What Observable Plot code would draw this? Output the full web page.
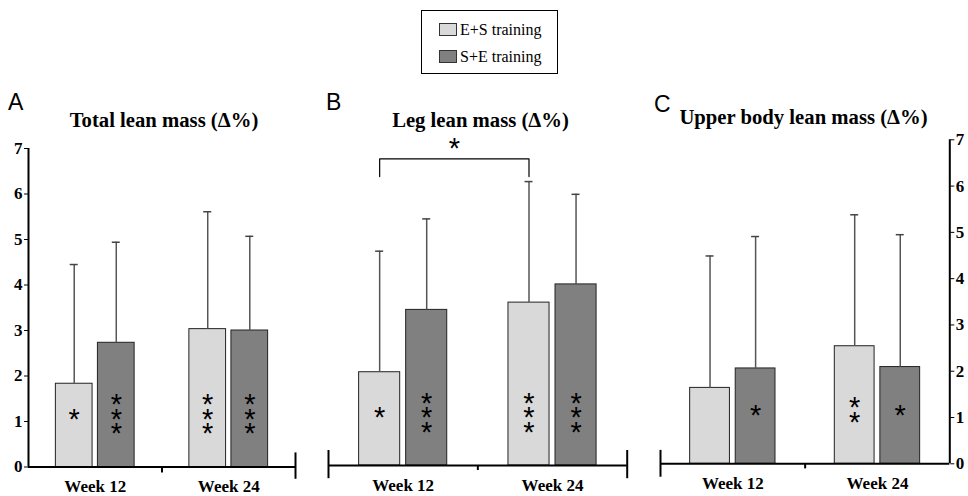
<!DOCTYPE html>
<html><head><meta charset="utf-8">
<script src="https://cdn.jsdelivr.net/npm/d3@7"></script>
<script src="https://cdn.jsdelivr.net/npm/@observablehq/plot@0.6"></script>
<style>
html,body{margin:0;padding:0;background:#fff;overflow:hidden}
#root{position:relative;width:968px;height:496px;overflow:hidden}
.abs{position:absolute}
.title{font-family:"Liberation Serif","Times New Roman",Times,serif;font-weight:bold;text-align:center;width:340px;white-space:nowrap}
.letter{font-family:"Liberation Sans",Arial,sans-serif;font-size:23px;line-height:23px}
#legend{left:421px;top:10px;width:137px;height:64px;border:1px solid #000;box-sizing:border-box;font-family:"Liberation Serif","Times New Roman",Times,serif;font-size:16px}
.sw{position:absolute;left:17px;width:18px;height:13px;border:1px solid #333;box-sizing:border-box}
.lt{position:absolute;left:38px;line-height:16px;white-space:nowrap}
</style></head><body><div id="root"></div>
<script>
// ---- data ----
const weeks = ["Week 12", "Week 24"];
const groups = ["E+S training", "S+E training"];
const titles = ["Total lean mass (Δ%)", "Leg lean mass (Δ%)", "Upper body lean mass (Δ%)"];
const letters = ["A", "B", "C"];
const yTicks = [0, 1, 2, 3, 4, 5, 6, 7];

// Total lean mass
const totalES = [1.83, 3.03];
const totalSE = [2.73, 3.00];
const totalES_sd = [2.62, 2.58];
const totalSE_sd = [2.21, 2.07];
const totalES_sig = [1, 3];
const totalSE_sig = [3, 3];
// Leg lean mass
const legES = [2.05, 3.58];
const legSE = [3.42, 3.98];
const legES_sd = [2.66, 2.66];
const legSE_sd = [2.00, 1.98];
const legES_sig = [1, 3];
const legSE_sig = [3, 3];
// Upper body lean mass
const upES = [1.64, 2.54];
const upSE = [2.06, 2.09];
const upES_sd = [2.85, 2.84];
const upSE_sd = [2.85, 2.86];
const upES_sig = [0, 2];
const upSE_sig = [1, 1];

const colors = {"E+S training": "#d9d9d9", "S+E training": "#808080"};
const serif = '"Liberation Serif", "Times New Roman", Times, serif';
const sans = '"Liberation Sans", Arial, sans-serif';

// ---- layout ----
const barW = 0.275, gap = 0.04;           // in group-width units
const offs = [0.5 - (barW + gap) / 2, 0.5 + (barW + gap) / 2];
const starY = 1.12;

const panels = [
  {es: totalES, se: totalSE, esSd: totalES_sd, seSd: totalSE_sd, esSig: totalES_sig, seSig: totalSE_sig,
   left: 0, width: 320, mL: 28, mR: 25, mT: 148, mB: 29.5, yAxis: "left",
   xTicks: [[1, 0, -0.13], [2, -0.27, 0.31]],
   title: {cx: 164, base: 127, size: 20.7}, letter: {x: 8, base: 110}},
  {es: legES, se: legSE, esSd: legES_sd, seSd: legSE_sd, esSig: legES_sig, seSig: legSE_sig,
   left: 320, width: 330, mL: 8, mR: 23.3, mT: 146.5, mB: 31, yAxis: null,
   xTicks: [[0, -0.29, 0.33], [1, 0, -0.11], [2, -0.29, 0.33]],
   bracket: true,
   title: {cx: 480.5, base: 127, size: 20.7}, letter: {x: 326, base: 110}},
  {es: upES, se: upSE, esSd: upES_sd, seSd: upSE_sd, esSig: upES_sig, seSig: upSE_sig,
   left: 640, width: 328, mL: 20, mR: 18.7, mT: 139.3, mB: 32.7, yAxis: "right",
   xTicks: [[0, -0.29, 0.29], [1, 0, -0.11]],
   title: {cx: 803.5, base: 124.5, size: 20.7}, letter: {x: 654, base: 112.5}}
];

const root = document.getElementById("root");

panels.forEach((p, pi) => {
  const rows = [];
  weeks.forEach((w, wi) => {
    [[p.es, p.esSd, p.esSig], [p.se, p.seSd, p.seSig]].forEach(([m, sd, sig], gi) => {
      const c = wi + offs[gi];
      rows.push({week: w, group: groups[gi], mean: m[wi], top: m[wi] + sd[wi],
        c, x1: c - barW / 2, x2: c + barW / 2, stars: sig[wi] ? Array(sig[wi]).fill("*").join("\n") : ""});
    });
  });
  const plotW = p.width - p.mL - p.mR;
  const capHalf = 4 / (plotW / 2);
  const starOpts = {lineAnchor: "middle", lineHeight: 0.5, fontFamily: sans, fontWeight: "normal", fontSize: 29, dy: 8, fill: "#000"};
  const marks = [
    Plot.rectY(rows, {x1: "x1", x2: "x2", y1: 0, y2: "mean", fill: d => colors[d.group], stroke: "#222", strokeWidth: 1}),
    Plot.ruleX(rows, {x: "c", y1: "mean", y2: "top", stroke: "#555", strokeWidth: 1.5}),
    Plot.ruleY(rows, {y: "top", x1: d => d.c - capHalf, x2: d => d.c + capHalf, stroke: "#444", strokeWidth: 1.5}),
    Plot.text(rows.filter(d => d.stars), {x: "c", y: starY, text: "stars", ...starOpts}),
    Plot.ruleY([0], {strokeWidth: 2, stroke: "#000"}),
    Plot.ruleX(p.xTicks, {x: d => d[0], y1: d => d[1], y2: d => d[2], strokeWidth: 2, stroke: "#000"})
  ];
  if (p.yAxis === "left") marks.push(Plot.ruleX([0], {y1: 0, y2: 7, strokeWidth: 2, stroke: "#000"}));
  if (p.yAxis === "right") marks.push(Plot.ruleX([2], {y1: 0, y2: 7, strokeWidth: 2, stroke: "#000"}));
  if (p.bracket) {
    const a = rows[0].c, b = rows[2].c;
    const br = [{x: a, y: 6.35}, {x: a, y: 6.74}, {x: b, y: 6.74}, {x: b, y: 6.35}];
    marks.push(Plot.line(br, {x: "x", y: "y", stroke: "#000", strokeWidth: 1.2, strokeLinejoin: "round"}));
    marks.push(Plot.text([{x: (a + b) / 2, y: 7.03}], {x: "x", y: "y", text: () => "*", ...starOpts}));
  }
  const svg = Plot.plot({
    width: p.width, height: 496,
    marginLeft: p.mL, marginRight: p.mR, marginTop: p.mT, marginBottom: p.mB,
    style: {background: "transparent", fontFamily: serif, fontWeight: "bold", fontSize: "17px", color: "#000", overflow: "visible"},
    x: {domain: [0, 2], ticks: [0.5, 1.5], tickFormat: d => weeks[Math.floor(d)], tickSize: 0, tickPadding: 13, label: null},
    y: {domain: [0, 7], axis: p.yAxis, ticks: yTicks, tickFormat: d3.format("d"), tickSize: 4, tickPadding: 2, label: null},
    marks
  });
  svg.classList.add("abs");
  svg.style.left = p.left + "px";
  svg.style.top = "0px";
  root.appendChild(svg);

  const t = document.createElement("div");
  t.className = "abs title";
  t.textContent = titles[pi];
  t.style.fontSize = p.title.size + "px";
  t.style.lineHeight = p.title.size + "px";
  t.style.left = (p.title.cx - 170) + "px";
  t.style.top = (p.title.base - 0.84 * p.title.size) + "px";
  root.appendChild(t);

  const l = document.createElement("div");
  l.className = "abs letter";
  l.textContent = letters[pi];
  l.style.left = p.letter.x + "px";
  l.style.top = (p.letter.base - 19.3) + "px";
  root.appendChild(l);
});

// legend
const lg = document.createElement("div");
lg.id = "legend";
lg.className = "abs";
groups.forEach((g, i) => {
  const s = document.createElement("div");
  s.className = "sw";
  s.style.top = (12 + i * 27) + "px";
  s.style.background = colors[g];
  lg.appendChild(s);
  const tx = document.createElement("div");
  tx.className = "lt";
  tx.style.top = (11 + i * 27) + "px";
  tx.textContent = g;
  lg.appendChild(tx);
});
root.appendChild(lg);
</script></body></html>
